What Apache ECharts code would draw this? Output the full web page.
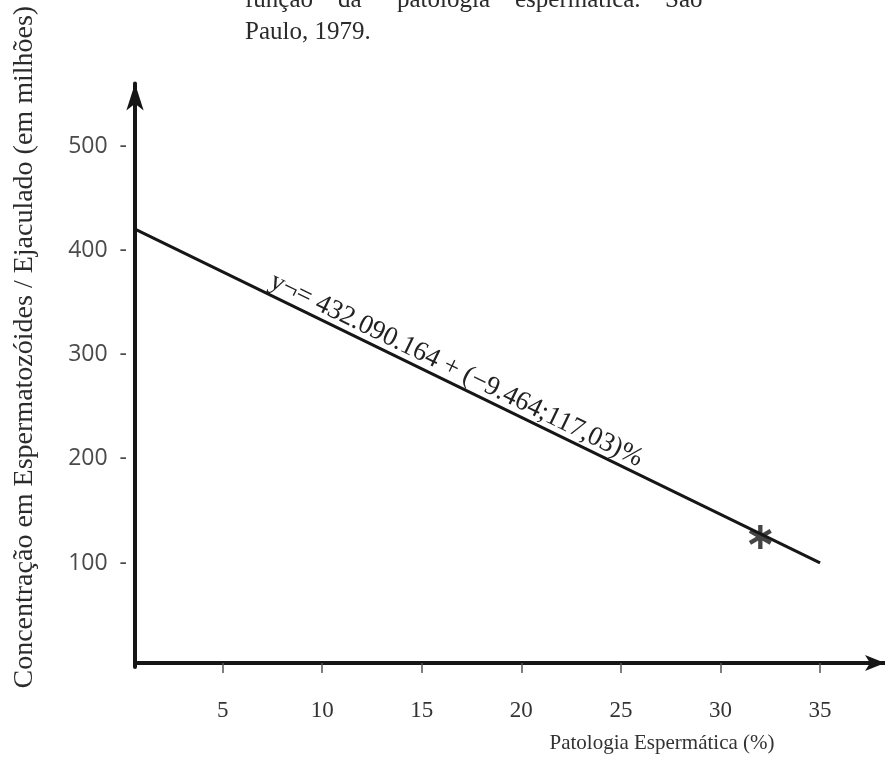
<!DOCTYPE html>
<html>
<head>
<meta charset="utf-8">
<script src="https://cdn.jsdelivr.net/npm/echarts@6/dist/echarts.min.js"></script>
<style>
  html, body { margin: 0; padding: 0; background: #ffffff; }
  #chart { width: 885px; height: 759px; }
</style>
</head>
<body>
<div id="chart"></div>
<script>
// Sperm concentration per ejaculate against sperm pathology (%), São Paulo, 1979
const xTicks = [5, 10, 15, 20, 25, 30, 35];
const yTicks = [100, 200, 300, 400, 500];
const regressionLine = [[0.6, 421], [35, 100]];
const markedPoint = [[32, 125]];
const equationText = 'y¬= 432.090.164 + (−9.464;117,03)%';
const titleLine1Words = ['função', 'da', 'patologia', 'espermática.', 'São'];
const titleLine2 = 'Paulo, 1979.';
const xAxisTitle = 'Patologia Espermática (%)';
const yAxisTitle = 'Concentração em Espermatozóides / Ejaculado (em milhões)';

// Layout constants
const INK = '#161616';
const SERIF = '"Liberation Serif", "DejaVu Serif", serif';
const titleWordX = [245, 338, 397, 515, 665];

// Six-armed asterisk used as the marker (three crossing bars, same winding)
const STAR = 'path://M-1.8 -10 L1.8 -10 L1.8 10 L-1.8 10 Z ' +
  'M-9.56 -3.44 L-7.76 -6.56 L9.56 3.44 L7.76 6.56 Z ' +
  'M7.76 -6.56 L9.56 -3.44 L-7.76 6.56 L-9.56 3.44 Z';

const chart = echarts.init(document.getElementById('chart'), null, { renderer: 'canvas' });

const option = {
  backgroundColor: '#ffffff',
  animation: false,
  grid: { left: 135, right: -2, top: 83.4, bottom: 91, containLabel: false },
  xAxis: {
    type: 'value',
    min: 0.6,
    max: 38.26,
    offset: -4,
    axisLine: {
      show: true,
      onZero: false,
      symbol: ['none', 'arrow'],
      symbolSize: [12, 20],
      lineStyle: { color: INK, width: 4 }
    },
    axisTick: { show: true, customValues: xTicks, length: 10, lineStyle: { color: '#555', width: 1.5 } },
    axisLabel: { customValues: xTicks, margin: 36, fontFamily: SERIF, fontSize: 23, color: '#333' },
    splitLine: { show: false },
    name: xAxisTitle,
    nameLocation: 'middle',
    nameGap: 70,
    nameTextStyle: { fontFamily: SERIF, fontSize: 21, color: '#333', padding: [0, 0, 0, 304] }
  },
  yAxis: {
    type: 'value',
    min: 0,
    max: 561,
    axisLine: {
      show: true,
      onZero: false,
      symbol: ['none', 'arrow'],
      symbolSize: [13, 27],
      lineStyle: { color: INK, width: 4 }
    },
    axisTick: { show: false },
    axisLabel: {
      customValues: yTicks,
      margin: 8,
      formatter: v => v + '  -',
      fontFamily: '"Open Sans", sans-serif',
      fontSize: 23,
      color: '#4a4a4a'
    },
    splitLine: { show: false },
    name: yAxisTitle,
    nameLocation: 'middle',
    nameRotate: 90,
    nameGap: 96,
    nameTextStyle: { fontFamily: SERIF, fontSize: 28, color: '#2b2b2b', padding: [0, 0, 0, 56] }
  },
  series: [
    {
      type: 'line',
      data: regressionLine,
      symbol: 'none',
      silent: true,
      lineStyle: { color: INK, width: 3 },
      z: 3
    },
    {
      type: 'scatter',
      data: markedPoint,
      symbol: STAR,
      symbolSize: 24,
      symbolKeepAspect: true,
      itemStyle: { color: INK },
      z: 4
    }
  ]
};

chart.setOption(option);

// Equation written along the regression line, slightly above it
const p0 = chart.convertToPixel({ gridIndex: 0 }, regressionLine[0]);
const p1 = chart.convertToPixel({ gridIndex: 0 }, regressionLine[1]);
const ang = Math.atan2(p1[1] - p0[1], p1[0] - p0[0]);
const t = 0.46;
const cx = p0[0] + (p1[0] - p0[0]) * t + 14 * Math.sin(ang);
const cy = p0[1] + (p1[1] - p0[1]) * t - 14 * Math.cos(ang);

const graphics = [];
titleLine1Words.forEach((w, i) => {
  graphics.push({
    type: 'text', x: titleWordX[i], y: 0,
    style: { text: w, font: '25px ' + SERIF, fill: '#2a2a2a', verticalAlign: 'middle', align: 'left' }
  });
});
graphics.push({
  type: 'text', x: 245, y: 32,
  style: { text: titleLine2, font: '25px ' + SERIF, fill: '#2a2a2a', verticalAlign: 'middle', align: 'left' }
});
graphics.push({
  type: 'text', x: cx, y: cy, rotation: -ang,
  style: { text: equationText, font: '27px ' + SERIF, fill: '#222', align: 'center', verticalAlign: 'middle' }
});

chart.setOption({ graphic: graphics });
</script>
</body>
</html>
